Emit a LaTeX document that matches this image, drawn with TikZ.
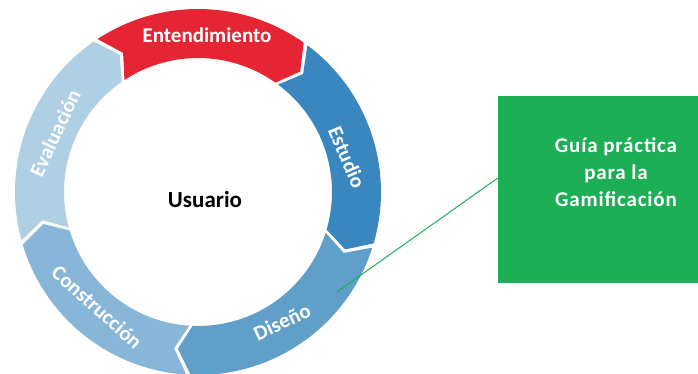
\documentclass[tikz,border=0pt]{standalone}
\usepackage{fontspec}
\setmainfont{Carlito}
\definecolor{entred}{HTML}{E52534}
\definecolor{estblue}{HTML}{3A86BE}
\definecolor{disblue}{HTML}{619FCB}
\definecolor{conblue}{HTML}{87B6D9}
\definecolor{evablue}{HTML}{AFCFE5}
\definecolor{guiagreen}{HTML}{1DAF55}
\tikzset{
  phase/.style={text=white, inner sep=0pt, font=\bfseries\fontsize{21}{21}\selectfont},
  guiabox/.style={fill=guiagreen, minimum width=200pt, minimum height=187pt, inner sep=0pt},
}
% one chevron of the ring: tail angle, head angle, colour
\newcommand{\ringpart}[3]{%
  \fill[#3] (#1-0.7:183) arc[start angle=#1-0.7, end angle=#2+0.7, radius=183]
    -- (#2+0.7-5:158) -- (#2+0.7:134)
    arc[start angle=#2+0.7, end angle=#1-0.7, radius=134]
    -- (#1-0.7-5:158) -- cycle;}
\begin{document}
\begin{tikzpicture}[x=1pt, y=1pt]
\useasboundingbox (0,0) rectangle (698,374);
\begin{scope}[shift={(198,182)}]
\ringpart{124}{54}{entred}
\ringpart{54}{-17}{estblue}
\ringpart{-17}{-93}{disblue}
\ringpart{-93}{-164}{conblue}
\ringpart{196}{124}{evablue}
\end{scope}
\node[phase] (ent) at (207,339) {Entendimiento};
\node[phase, rotate=-67] (est) at (347,217) {Estudio};
\node[phase, rotate=25] (dis) at (282,52) {Diseño};
\node[phase, rotate=-42] (con) at (97,67) {Construcción};
\node[phase, rotate=65] (eva) at (55,241) {Evaluación};
\node[font=\bfseries\fontsize{23}{23}\selectfont] (usu) at (205,174) {Usuario};
\node[guiabox] (guia) at (598,184.5) {};
\node[text=white, align=center, font=\bfseries\fontsize{21}{27}\selectfont\addfontfeatures{LetterSpace=4}] (guiatxt) at (616,202) {Guía práctica\\para la\\Gamificación};
\coordinate (pin) at (337,82);
\draw[guiagreen, line width=1pt] (pin) -- ([yshift=11.5pt]guia.west);
\end{tikzpicture}
\end{document}
